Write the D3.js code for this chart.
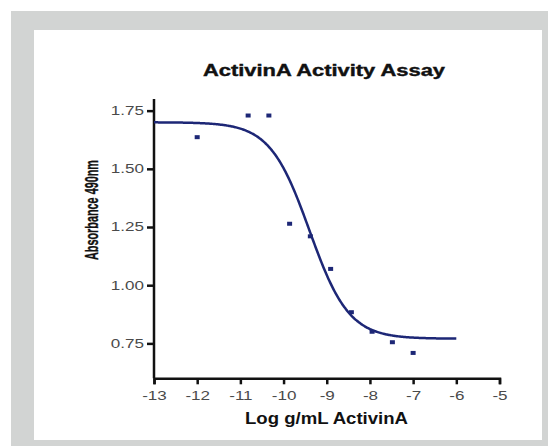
<!DOCTYPE html>
<html>
<head>
<meta charset="utf-8">
<script src="https://cdn.jsdelivr.net/npm/d3@7"></script>
<style>
    body { margin: 0; background: #fff; }
    text { font-family: "Liberation Sans", Arial, sans-serif; }
    .axis path, .axis line { stroke: #111; stroke-width: 2.5; }
    .axis text { fill: #4a4a4a; font-size: 12px; }
</style>
</head>
<body>
<div id="chart"></div>
<script>
// measured points
const logConc = [-12, -10.82, -10.34, -9.86, -9.38, -8.91, -8.43, -7.95, -7.48, -7.0];
const absorbance = [1.636, 1.729, 1.729, 1.264, 1.21, 1.07, 0.884, 0.80, 0.755, 0.709];

// 4PL fit
const fitTop = 1.70;
const fitBottom = 0.77;
const fitLogEC50 = -9.4;
const fitHill = 0.95;
const fitRange = [-13, -6];

const xTicks = [-13, -12, -11, -10, -9, -8, -7, -6, -5];
const yTicks = [0.75, 1.00, 1.25, 1.50, 1.75];

const [svgW, svgH] = [548, 446];
const STRETCH = 1.42;
const NAVY = "#1d2776";

const svg = d3.select("#chart").append("svg").attr("width", svgW).attr("height", svgH);

// frame
svg.append("rect").attr("x", 11).attr("y", 11).attr("width", svgW - 11).attr("height", svgH - 11).attr("fill", "#d2d4d3");
svg.append("rect").attr("x", 34).attr("y", 30).attr("width", 508).attr("height", 410).attr("fill", "#fff");

const x = d3.scaleLinear().domain([-13, -5]).range([154, 499.5]);
const y = d3.scaleLinear().domain([0.6, 1.8]).range([378.3, 99]);

function stretchText(sel) {
    sel.each(function () {
        let w = this.getComputedTextLength();
        d3.select(this).attr("textLength", w * STRETCH).attr("lengthAdjust", "spacingAndGlyphs");
    });
}

// axes
let gx = svg.append("g").attr("class", "axis")
    .attr("transform", "translate(0," + y(0.6) + ")")
    .call(d3.axisBottom(x).tickValues(xTicks).tickFormat(function (d) { return String(d); })
        .tickSize(6).tickSizeOuter(6).tickPadding(7));
gx.selectAll("text").call(stretchText);

let gy = svg.append("g").attr("class", "axis")
    .attr("transform", "translate(" + x(-13) + ",0)")
    .call(d3.axisLeft(y).tickValues(yTicks).tickFormat(d3.format(".2f")).tickSize(7).tickSizeOuter(0).tickPadding(3));
gy.selectAll("text").call(stretchText);
gy.select("path").attr("d", "M0," + y(1.8) + "V" + y(0.6));

// fitted curve
let curvePts = d3.range(fitRange[0], fitRange[1] + 0.001, 0.02).map(function (v) {
    return [v, fitBottom + (fitTop - fitBottom) / (1 + Math.pow(10, (v - fitLogEC50) * fitHill))];
});
let line = d3.line().x(function (d) { return x(d[0]); }).y(function (d) { return y(d[1]); }).curve(d3.curveBasis);
svg.append("path").datum(curvePts).attr("d", line)
    .attr("fill", "none").attr("stroke", NAVY).attr("stroke-width", 2.5);

// points
svg.append("g").selectAll("rect").data(logConc).enter().append("rect")
    .attr("x", function (d) { return x(d) - 2.5; })
    .attr("y", function (d, i) { return y(absorbance[i]) - 2; })
    .attr("width", 5).attr("height", 4)
    .attr("fill", NAVY);

// texts
svg.append("text").attr("x", 324).attr("y", 76).attr("text-anchor", "middle")
    .attr("font-size", 16).attr("font-weight", "bold").attr("fill", "#111")
    .attr("stroke", "#111").attr("stroke-width", 0.4)
    .attr("textLength", 242).attr("lengthAdjust", "spacingAndGlyphs")
    .text("ActivinA Activity Assay");

svg.append("text").attr("x", 326.5).attr("y", 424).attr("text-anchor", "middle")
    .attr("font-size", 16).attr("font-weight", "bold").attr("fill", "#111")
    .attr("textLength", 163).attr("lengthAdjust", "spacingAndGlyphs")
    .text("Log g/mL ActivinA");

svg.append("text").attr("transform", "translate(98,210) scale(1.25,1) rotate(-90)").attr("text-anchor", "middle")
    .attr("font-size", 15).attr("font-weight", "bold").attr("fill", "#111")
    .attr("stroke", "#111").attr("stroke-width", 0.3)
    .attr("textLength", 100).attr("lengthAdjust", "spacingAndGlyphs")
    .text("Absorbance 490nm");
</script>
</body>
</html>
